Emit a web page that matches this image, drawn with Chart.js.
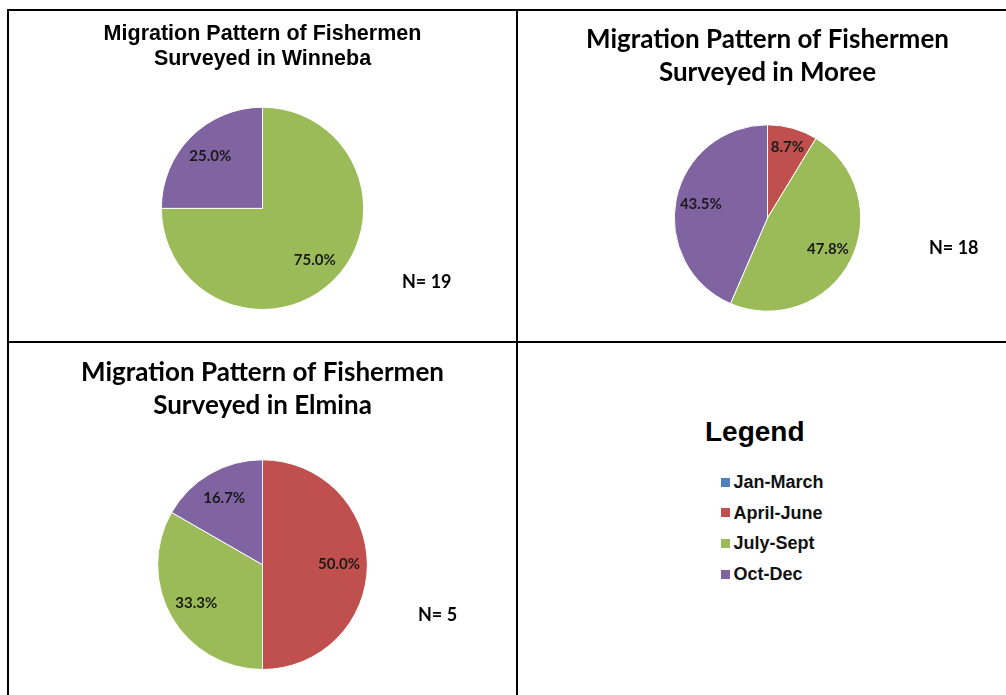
<!DOCTYPE html>
<html>
<head>
<meta charset="utf-8">
<script src="https://cdn.jsdelivr.net/npm/chart.js"></script>
<style>
  body { margin: 0; background: #fff; width: 1006px; height: 695px; overflow: hidden; position: relative; }
  .line { position: absolute; background: #000; }
  .panel { position: absolute; }
  .nlabel { position: absolute; font: bold 18px Lato, sans-serif; color: #000; line-height: 18px; white-space: nowrap; }
  #legendTitle { position: absolute; left: 705px; top: 418px; font: bold 28px "Liberation Sans", Arial, sans-serif; line-height: 28px; }
  #legendList { position: absolute; left: 721px; top: 473px; }
  .item { display: flex; align-items: center; height: 18px; margin-bottom: 12.7px; font: bold 18px "Liberation Sans", Arial, sans-serif; line-height: 18px; color: #111; }
  .item span.box { width: 9px; height: 9px; margin-right: 3.5px; display: inline-block; }
</style>
</head>
<body>
<div class="line" style="left:7px;top:9px;width:2px;height:686px"></div>
<div class="line" style="left:7px;top:9px;width:999px;height:2px"></div>
<div class="line" style="left:516px;top:9px;width:2px;height:686px"></div>
<div class="line" style="left:7px;top:341px;width:999px;height:2px"></div>

<div class="panel" style="left:9px;top:11px"><canvas id="c1" width="507" height="330"></canvas></div>
<div class="panel" style="left:518px;top:11px"><canvas id="c2" width="488" height="330"></canvas></div>
<div class="panel" style="left:9px;top:343px"><canvas id="c3" width="507" height="352"></canvas></div>

<div class="nlabel" id="n1" style="left:402px;top:272px"></div>
<div class="nlabel" id="n2" style="left:929px;top:238px"></div>
<div class="nlabel" id="n3" style="left:418px;top:605px"></div>

<div id="legendTitle">Legend</div>
<div id="legendList"></div>

<script>
// data
const categories = ['Jan-March', 'April-June', 'July-Sept', 'Oct-Dec'];
const sliceColors = ['#4F81BD', '#C0504D', '#9BBB59', '#8064A2'];
const sites = ['Winneba', 'Moree', 'Elmina'];
const winnebaValues = [0, 0, 75.0, 25.0];
const moreeValues = [0, 8.7, 47.8, 43.5];
const elminaValues = [0, 50.0, 33.3, 16.7];
const sampleSizes = [19, 18, 5];

// percent labels inside slices
const pctLabels = {
  id: 'pctLabels',
  afterDatasetsDraw(chart) {
    const ctx = chart.ctx;
    const meta = chart.getDatasetMeta(0);
    const vals = chart.data.datasets[0].data;
    ctx.save();
    ctx.font = 'bold 15px Lato, sans-serif';
    ctx.fillStyle = '#1a1a1a';
    ctx.textAlign = 'center';
    ctx.textBaseline = 'middle';
    meta.data.forEach(function (arc, i) {
      if (!vals[i]) return;
      const p = arc.getProps(['x', 'y', 'startAngle', 'endAngle', 'outerRadius'], true);
      const mid = (p.startAngle + p.endAngle) / 2;
      const k = vals[i] < 15 ? 0.79 : 0.73;
      ctx.fillText(vals[i].toFixed(1) + '%',
        p.x + Math.cos(mid) * p.outerRadius * k,
        p.y + Math.sin(mid) * p.outerRadius * k);
    });
    ctx.restore();
  }
};

function makePie(id, site, values, titleFont, titlePad, layoutPad) {
  return new Chart(document.getElementById(id), {
    type: 'pie',
    data: {
      labels: categories,
      datasets: [{
        data: values,
        backgroundColor: sliceColors,
        borderColor: '#ffffff',
        borderWidth: 1
      }]
    },
    options: {
      responsive: false,
      animation: false,
      layout: { padding: layoutPad },
      plugins: {
        legend: { display: false },
        tooltip: { enabled: false },
        title: {
          display: true,
          text: ['Migration Pattern of Fishermen', 'Surveyed in ' + site],
          color: '#000',
          font: titleFont,
          padding: titlePad
        }
      }
    },
    plugins: [pctLabels]
  });
}

makePie('c1', sites[0], winnebaValues,
  { family: '"Liberation Sans", Arial, sans-serif', size: 21.5, weight: 'bold', lineHeight: 25.4 / 21.5 },
  { top: 9.9, bottom: 35.0 },
  { top: 0, bottom: 31, left: 0, right: 0 });

makePie('c2', sites[1], moreeValues,
  { family: 'Lato, sans-serif', size: 26, weight: 'bold', lineHeight: 33 / 26 },
  { top: 11.7, bottom: 35.6 },
  { top: 0, bottom: 29.3, left: 11, right: 0 });

makePie('c3', sites[2], elminaValues,
  { family: 'Lato, sans-serif', size: 26, weight: 'bold', lineHeight: 33 / 26 },
  { top: 13.5, bottom: 36.8 },
  { top: 0, bottom: 25, left: 0, right: 0 });

// N labels
['n1', 'n2', 'n3'].forEach(function (id, i) {
  document.getElementById(id).textContent = 'N= ' + sampleSizes[i];
});

// legend
const list = document.getElementById('legendList');
categories.forEach(function (c, i) {
  const row = document.createElement('div');
  row.className = 'item';
  const box = document.createElement('span');
  box.className = 'box';
  box.style.background = sliceColors[i];
  row.appendChild(box);
  row.appendChild(document.createTextNode(c));
  list.appendChild(row);
});
</script>
</body>
</html>
